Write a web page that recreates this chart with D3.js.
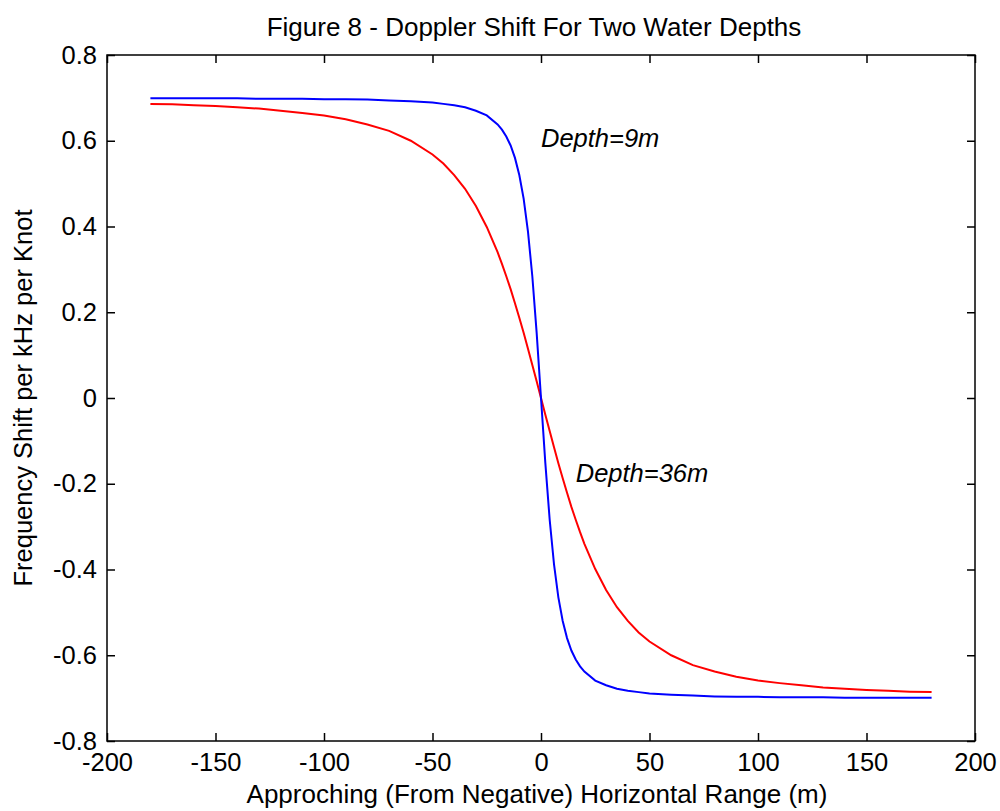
<!DOCTYPE html>
<html>
<head>
<meta charset="utf-8">
<script src="https://cdn.jsdelivr.net/npm/d3@7"></script>
<style>
  html, body { margin: 0; padding: 0; background: #fff; }
  svg { display: block; }
  text { font-family: "Liberation Sans", Arial, Helvetica, sans-serif; fill: #000; }
</style>
</head>
<body>
<svg id="chart" width="1000" height="811"></svg>
<script>
// ---- data ----
const rangeX = [-180,-170,-160,-150,-140,-130,-120,-110,-100,-90,-80,-70,-60,-50,-45,-40,-35,-30,-25,-20,-18,-16,-14,-12,-10,-8,-6,-4,-2,0,
                2,4,6,8,10,12,14,16,18,20,25,30,35,40,45,50,60,70,80,90,100,110,120,130,140,150,160,170,180];
const depth9 = [0.699,0.699,0.699,0.699,0.699,0.698,0.698,0.698,0.697,0.697,0.696,0.694,0.692,0.689,0.686,0.683,0.678,0.670,0.659,0.638,0.626,0.610,0.589,0.560,0.520,0.465,0.388,0.284,0.152,0,
                -0.152,-0.284,-0.388,-0.465,-0.520,-0.560,-0.589,-0.610,-0.626,-0.638,-0.659,-0.670,-0.678,-0.683,-0.686,-0.689,-0.692,-0.694,-0.696,-0.697,-0.697,-0.698,-0.698,-0.698,-0.699,-0.699,-0.699,-0.699,-0.699];
const depth36 = [0.686,0.685,0.683,0.681,0.678,0.675,0.670,0.665,0.659,0.650,0.638,0.623,0.600,0.568,0.547,0.520,0.488,0.448,0.399,0.340,0.313,0.284,0.254,0.221,0.187,0.152,0.115,0.077,0.039,0,
                 -0.039,-0.077,-0.115,-0.152,-0.187,-0.221,-0.254,-0.284,-0.313,-0.340,-0.399,-0.448,-0.488,-0.520,-0.547,-0.568,-0.600,-0.623,-0.638,-0.650,-0.659,-0.665,-0.670,-0.675,-0.678,-0.681,-0.683,-0.685,-0.686];
const xTicks = [-200,-150,-100,-50,0,50,100,150,200];
const yTicks = [-0.8,-0.6,-0.4,-0.2,0,0.2,0.4,0.6,0.8];
const seriesNames = ["Depth=9m","Depth=36m"];
const labelPos = [[0, 0.60], [16, -0.18]];
const titleText = "Figure 8 - Doppler Shift For Two Water Depths";
const xLabelText = "Approching (From Negative) Horizontal Range (m)";
const yLabelText = "Frequency Shift per kHz per Knot";

// ---- layout ----
const svg = d3.select("#chart");
const L = 107, R = 975, T = 55, B = 741;
const x = d3.scaleLinear().domain([-200, 200]).range([L, R]);
const y = d3.scaleLinear().domain([-0.8, 0.8]).range([B, T]);
const fs = 25.5;
const fmtX = d => String(d);
const fmtY = d => d === 0 ? "0" : d.toFixed(1);

function styleAxis(g) {
  g.select(".domain").remove();
  g.selectAll(".tick line").attr("stroke", "#000").attr("stroke-width", 1.5);
  g.selectAll("text").attr("font-size", fs).attr("fill", "#000")
   .attr("font-family", '"Liberation Sans", Arial, sans-serif');
}

svg.append("g").attr("transform", `translate(0,${B})`)
  .call(d3.axisBottom(x).tickValues(xTicks).tickSize(-8).tickPadding(12).tickFormat(fmtX))
  .call(styleAxis);
svg.append("g").attr("transform", `translate(0,${T})`)
  .call(d3.axisTop(x).tickValues(xTicks).tickSize(-8).tickFormat(""))
  .call(styleAxis);
svg.append("g").attr("transform", `translate(${L},0)`)
  .call(d3.axisLeft(y).tickValues(yTicks).tickSize(-8).tickPadding(10).tickFormat(fmtY))
  .call(styleAxis);
svg.append("g").attr("transform", `translate(${R},0)`)
  .call(d3.axisRight(y).tickValues(yTicks).tickSize(-8).tickFormat(""))
  .call(styleAxis);

// box
svg.append("rect").attr("x", L).attr("y", T).attr("width", R - L).attr("height", B - T)
  .attr("fill", "none").attr("stroke", "#000").attr("stroke-width", 1.5);

// lines
const line = d3.line().x((d, i) => x(rangeX[i])).y(d => y(d));
svg.append("path").datum(depth36).attr("d", line)
  .attr("fill", "none").attr("stroke", "#ff0000").attr("stroke-width", 2);
svg.append("path").datum(depth9).attr("d", line)
  .attr("fill", "none").attr("stroke", "#0000ff").attr("stroke-width", 2);

// annotations
seriesNames.forEach((s, i) => {
  svg.append("text").attr("x", x(labelPos[i][0])).attr("y", y(labelPos[i][1]))
    .attr("dominant-baseline", "middle").attr("font-size", fs).attr("font-style", "italic")
    .text(s);
});

// title and axis labels
svg.append("text").attr("x", 534).attr("y", 36).attr("text-anchor", "middle")
  .attr("font-size", 26).text(titleText);
svg.append("text").attr("x", 537).attr("y", 803).attr("text-anchor", "middle")
  .attr("font-size", 26).text(xLabelText);
svg.append("text").attr("transform", `translate(32,${(T + B) / 2}) rotate(-90)`)
  .attr("text-anchor", "middle").attr("font-size", fs).text(yLabelText);
</script>
</body>
</html>
